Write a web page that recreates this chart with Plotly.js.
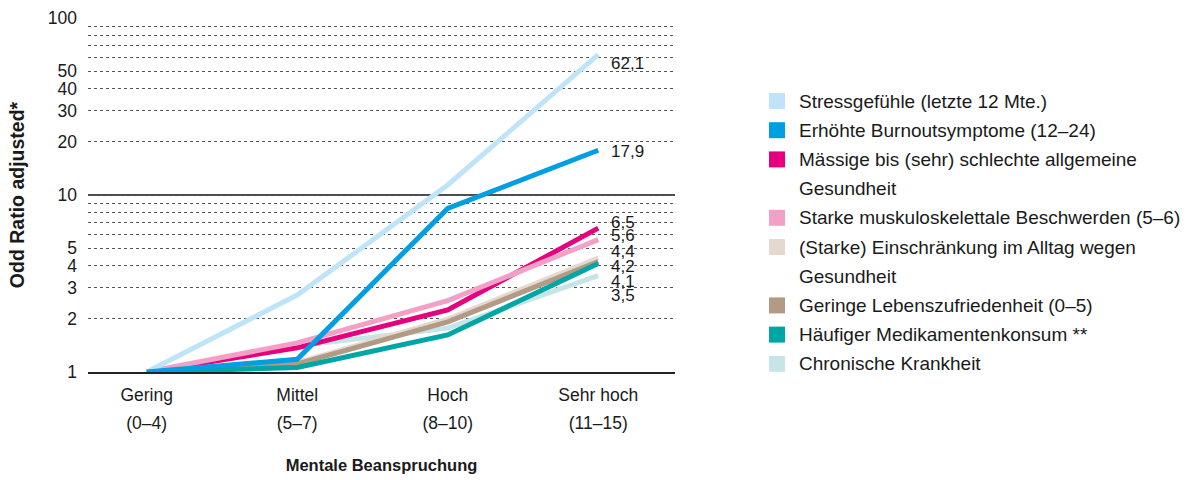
<!DOCTYPE html>
<html>
<head>
<meta charset="utf-8">
<script src="https://cdn.plot.ly/plotly-3.0.1.min.js"></script>
<style>html,body{margin:0;padding:0;background:#fff;}#chart{width:1200px;height:480px;}</style>
</head>
<body>
<div id="chart"></div>
<script>
// ---- data ----
const categories = ['Gering', 'Mittel', 'Hoch', 'Sehr hoch'];
const ranges = ['(0–4)', '(5–7)', '(8–10)', '(11–15)'];
const yTickVals = [1, 2, 3, 4, 5, 10, 20, 30, 40, 50, 100];
const yMinorVals = [6, 7, 8, 9, 60, 70, 80, 90];

const seriesNames = [
  'Stressgefühle (letzte 12 Mte.)',
  'Erhöhte Burnoutsymptome (12–24)',
  'Mässige bis (sehr) schlechte allgemeine|Gesundheit',
  'Starke muskuloskelettale Beschwerden (5–6)',
  '(Starke) Einschränkung im Alltag wegen|Gesundheit',
  'Geringe Lebenszufriedenheit (0–5)',
  'Häufiger Medikamentenkonsum **',
  'Chronische Krankheit'
];
const stress    = [1, 2.72, 11.4, 62.1];
const burnout   = [1, 1.18, 8.4, 17.9];
const maessig   = [1, 1.37, 2.24, 6.5];
const muskulo   = [1, 1.46, 2.53, 5.6];
const einschr   = [1, 1.13, 1.99, 4.4];
const lebenszuf = [1, 1.11, 1.92, 4.2];
const medik     = [1, 1.06, 1.62, 4.1];
const chronisch = [1, 1.40, 1.77, 3.5];

// ---- styles ----
const colors = ['#bfe4f8', '#009fe3', '#e6007e', '#f3a0c6', '#e4d9d0', '#b39a84', '#00a5a5', '#c5e5e6'];
const allSeries = [stress, burnout, maessig, muskulo, einschr, lebenszuf, medik, chronisch];
const drawOrder = [7, 4, 5, 6, 2, 3, 0, 1];
const labelShift = [-9, -1, 6, 4, 7, -5, -18, -20];

const FONT = '"Liberation Sans", Arial, Helvetica, sans-serif';
const txt = '#1a1a1a';

const traces = drawOrder.map(i => ({
  type: 'scatter', mode: 'lines',
  x: categories, y: allSeries[i],
  name: seriesNames[i].replace('|', ' '),
  line: {color: colors[i], width: 5},
  showlegend: false, hoverinfo: 'skip'
}));
// helper trace for the second tick line (ranges)
traces.push({type: 'scatter', mode: 'lines', x: categories, y: categories.map(() => null),
  xaxis: 'x2', yaxis: 'y', showlegend: false, hoverinfo: 'skip'});

// plot geometry (for paper-coordinate legend)
const L = 88, R = 525, T = 18, B = 108, W = 1200, H = 480;
const pw = W - L - R, ph = H - T - B;
const px = x => (x - L) / pw;
const py = y => (H - B - y) / ph;

const annotations = [];
const shapes = [];

// end value labels
allSeries.forEach((s, i) => {
  const v = s[s.length - 1];
  annotations.push({
    x: categories[categories.length - 1], y: Math.log10(v), xref: 'x', yref: 'y',
    text: v.toFixed(1).replace('.', ','), showarrow: false,
    xanchor: 'left', yanchor: 'middle', xshift: 11, yshift: labelShift[i],
    font: {family: FONT, size: 17, color: txt}
  });
});

// legend (custom, squares + text lines)
let line = 0;
const lineH = 29.2, y0 = 101;
seriesNames.forEach((n, i) => {
  const parts = n.split('|');
  const cy = y0 + line * lineH;
  shapes.push({type: 'rect', xref: 'paper', yref: 'paper',
    x0: px(769), x1: px(785), y0: py(cy + 8), y1: py(cy - 8),
    fillcolor: colors[i], line: {width: 0}});
  parts.forEach((p, k) => {
    annotations.push({xref: 'paper', yref: 'paper', x: px(797), y: py(y0 + (line + k) * lineH),
      text: p, showarrow: false, xanchor: 'left', yanchor: 'middle',
      font: {family: FONT, size: 19, color: txt}});
  });
  line += parts.length;
});

// solid reference line at 10
shapes.push({type: 'line', xref: 'paper', yref: 'y', x0: 0, x1: 1, y0: 10, y1: 10,
  line: {color: '#111', width: 1.3}, layer: 'below'});

const layout = {
  width: W, height: H,
  margin: {l: L, r: R, t: T, b: B},
  paper_bgcolor: '#fff', plot_bgcolor: '#fff',
  font: {family: FONT, color: txt, size: 17},
  separators: ',.',
  showlegend: false,
  xaxis: {
    type: 'category', categoryorder: 'array', categoryarray: categories,
    range: [-0.39, 3.51], showgrid: false, zeroline: false,
    showline: true, linecolor: '#222', linewidth: 1.5,
    ticks: '', ticklabelstandoff: 6,
    tickfont: {family: FONT, size: 17.5, color: txt},
    title: {text: '<b>Mentale Beanspruchung</b>', standoff: 56,
      font: {family: FONT, size: 16.5, color: txt}},
    fixedrange: true
  },
  xaxis2: {
    type: 'category', categoryorder: 'array', categoryarray: categories,
    overlaying: 'x', anchor: 'y', side: 'bottom',
    range: [-0.39, 3.51], showgrid: false, zeroline: false, showline: false,
    tickmode: 'array', tickvals: categories, ticktext: ranges,
    ticks: '', ticklabelstandoff: 38,
    tickfont: {family: FONT, size: 17.5, color: txt}, fixedrange: true
  },
  yaxis: {
    type: 'log', range: [0, 2],
    tickmode: 'array', tickvals: yTickVals, ticktext: yTickVals.map(String),
    showgrid: true, gridcolor: '#555', griddash: 'dot', gridwidth: 1,
    minor: {tickmode: 'array', tickvals: yMinorVals, showgrid: true,
      gridcolor: '#555', griddash: 'dot', gridwidth: 1, ticks: ''},
    zeroline: false, showline: false, ticks: '', ticklabelstandoff: 10,
    tickfont: {family: FONT, size: 17.5, color: txt},
    title: {text: '<b>Odd Ratio adjusted*</b>', standoff: 17,
      font: {family: FONT, size: 19.5, color: txt}},
    fixedrange: true
  },
  annotations: annotations,
  shapes: shapes
};

Plotly.newPlot('chart', traces, layout, {displayModeBar: false, staticPlot: true});
</script>
</body>
</html>
